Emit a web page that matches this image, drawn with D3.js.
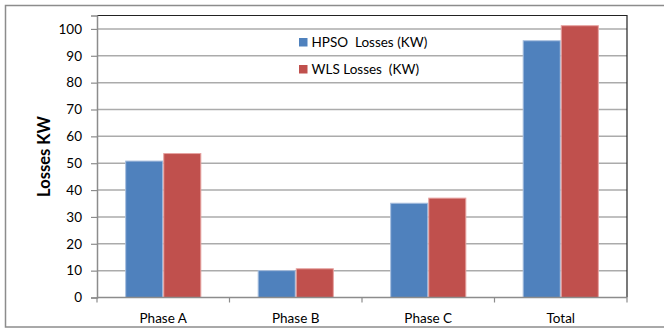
<!DOCTYPE html>
<html>
<head>
<meta charset="utf-8">
<script src="https://cdn.jsdelivr.net/npm/d3@7"></script>
<style>
  html, body { margin: 0; padding: 0; background: #fff; }
  svg { display: block; font-family: Lato, "Liberation Sans", sans-serif; }
</style>
</head>
<body>
<svg id="chart" width="664" height="329"></svg>
<script>
// Losses per phase, two estimation methods
const categories = ["Phase A", "Phase B", "Phase C", "Total"];
const seriesNames = ["HPSO  Losses (KW)", "WLS Losses  (KW)"];
const hpsoLosses = [50.8, 10.0, 35.1, 95.6];
const wlsLosses = [53.6, 10.7, 37.0, 101.2];
const yTicks = [0, 10, 20, 30, 40, 50, 60, 70, 80, 90, 100];
const seriesColors = ["#4F81BD", "#C0504D"];
const seriesEdges = ["#A7BEDE", "#E6A3A1"];

const svg = d3.select("#chart");
const plot = { left: 97, right: 627, top: 15.5, bottom: 297.5 };

// outer chart frame (right edge runs past the window)
svg.append("rect")
  .attr("x", 5.5).attr("y", 5.5)
  .attr("width", 700).attr("height", 321.5)
  .attr("fill", "none").attr("stroke", "#8c8c8c").attr("stroke-width", 1.5);

const x = d3.scaleBand().domain(categories).range([plot.left, plot.right]).padding(0);
const xInner = d3.scaleBand().domain([0, 1]).range([0, x.bandwidth()]).paddingOuter(0.74).paddingInner(0);
const y = d3.scaleLinear().domain([0, 105]).range([plot.bottom, plot.top]);

// horizontal gridlines
svg.append("g").selectAll("line").data(yTicks.filter(d => d > 0)).join("line")
  .attr("x1", plot.left).attr("x2", plot.right)
  .attr("y1", d => y(d)).attr("y2", d => y(d))
  .attr("stroke", "#ababab").attr("stroke-width", 1.5);

// plot area border: top and right
svg.append("path")
  .attr("d", `M${plot.left},${plot.top}H${plot.right}V${plot.bottom}`)
  .attr("fill", "none").attr("stroke", "#222").attr("stroke-width", 1.2);

// bars
const values = [hpsoLosses, wlsLosses];
const groups = svg.append("g").selectAll("g").data(values).join("g");
groups.each(function(vals, s) {
  d3.select(this).selectAll("rect").data(vals).join("rect")
    .attr("x", (d, i) => x(categories[i]) + xInner(s) + 0.5)
    .attr("width", xInner.bandwidth() - 1)
    .attr("y", d => y(d))
    .attr("height", d => y(0) - y(d))
    .attr("fill", seriesColors[s])
    .attr("stroke", seriesEdges[s]).attr("stroke-width", 1);
});

// y axis
const yAxis = svg.append("g").attr("transform", `translate(${plot.left},0)`)
  .call(d3.axisLeft(y).tickValues(yTicks).tickSize(6).tickPadding(9));
yAxis.select(".domain").attr("stroke", "#8c8c8c").attr("stroke-width", 1.5);
yAxis.selectAll(".tick line").attr("stroke", "#8c8c8c").attr("stroke-width", 1.2);
yAxis.selectAll(".tick text").attr("font-size", 13.5).attr("fill", "#000")
  .attr("font-family", "Lato, sans-serif");

// x axis with ticks at category boundaries
const xAxisG = svg.append("g").attr("transform", `translate(0,${plot.bottom})`);
xAxisG.append("line").attr("x1", plot.left).attr("x2", plot.right)
  .attr("stroke", "#8c8c8c").attr("stroke-width", 1.5);
const bounds = categories.map(c => x(c)).concat([plot.right]);
xAxisG.selectAll("line.tk").data(bounds).join("line").attr("class", "tk")
  .attr("x1", d => d).attr("x2", d => d).attr("y1", 0).attr("y2", 5)
  .attr("stroke", "#8c8c8c").attr("stroke-width", 1.2);
xAxisG.selectAll("text").data(categories).join("text")
  .attr("x", d => x(d) + x.bandwidth() / 2).attr("y", 25)
  .attr("text-anchor", "middle").attr("font-size", 13.5).attr("fill", "#000")
  .text(d => d);

// y axis title
svg.append("text")
  .attr("transform", `translate(50,${(plot.top + plot.bottom) / 2}) rotate(-90)`)
  .attr("text-anchor", "middle").attr("font-size", 16.5).attr("font-weight", "bold")
  .attr("fill", "#000").text("Losses KW");

// legend
const legend = svg.append("g").attr("transform", "translate(299,38)");
seriesNames.forEach((name, i) => {
  const g = legend.append("g").attr("transform", `translate(0,${i * 27})`);
  g.append("rect").attr("width", 8.5).attr("height", 8.5).attr("fill", seriesColors[i]);
  g.append("text").attr("x", 12.5).attr("y", 9).attr("font-size", 13.5)
    .attr("fill", "#000").attr("xml:space", "preserve").style("white-space", "pre").text(name);
});
</script>
</body>
</html>
